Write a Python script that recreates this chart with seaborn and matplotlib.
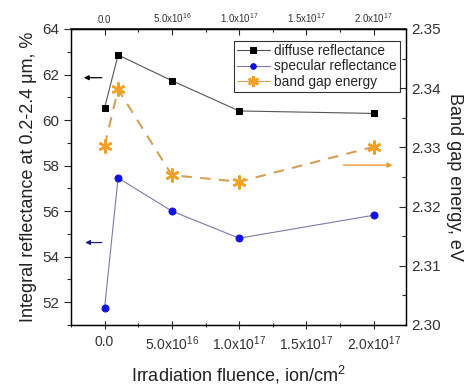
import matplotlib
matplotlib.use("Agg")
import matplotlib.pyplot as plt
import seaborn as sns
import pandas as pd
from matplotlib.ticker import MultipleLocator

sns.set_theme(style="ticks")
plt.rcParams['font.family'] = ['Liberation Sans', 'DejaVu Sans']
plt.rcParams['mathtext.fontset'] = 'custom'
plt.rcParams['mathtext.rm'] = 'Liberation Sans'
plt.rcParams['mathtext.it'] = 'Liberation Sans'

fluence = [0.0, 1.0e16, 5.0e16, 1.0e17, 2.0e17]
diffuse = [60.54, 62.86, 61.73, 60.40, 60.29]
specular = [51.75, 57.46, 56.00, 54.81, 55.82]
band_gap = [2.3303, 2.3398, 2.3253, 2.3242, 2.3301]

xtick_vals = [0.0, 5.0e16, 1.0e17, 1.5e17, 2.0e17]
xtick_labels = ["0.0", r"5.0x10$^{16}$", r"1.0x10$^{17}$", r"1.5x10$^{17}$", r"2.0x10$^{17}$"]

df = pd.DataFrame({"fluence": fluence, "diffuse": diffuse,
                   "specular": specular, "band_gap": band_gap})

fig = plt.figure(figsize=(4.71, 3.85), dpi=100)
ax = fig.add_axes([0.1507, 0.156, 0.7113, 0.7687])
ax2 = ax.twinx()

sns.lineplot(data=df, x="fluence", y="diffuse", ax=ax, color="#555555", lw=0.8,
             marker="s", markersize=5, markerfacecolor="black", markeredgecolor="black",
             label="diffuse reflectance", legend=False)
sns.lineplot(data=df, x="fluence", y="specular", ax=ax, color="#7a7ab0", lw=0.8,
             marker="o", markersize=5, markerfacecolor="#1010e0", markeredgecolor="#1010e0",
             label="specular reflectance", legend=False)
sns.lineplot(data=df, x="fluence", y="band_gap", ax=ax2, color="#d4a055", lw=1.5,
             linestyle=(0, (5, 4)), marker=(6, 2, 0), markersize=10, markeredgewidth=1.8,
             markerfacecolor="#f5a020", markeredgecolor="#f5a020",
             label="band gap energy", legend=False)

ax.set_xlim(-2.5e16, 2.24e17)
ax.set_ylim(51, 64)
ax2.set_ylim(2.30, 2.35)

ax.set_xticks(xtick_vals)
ax.set_xticklabels(xtick_labels)
ax.xaxis.set_minor_locator(MultipleLocator(2.5e16))
ax.yaxis.set_major_locator(MultipleLocator(2))
ax.yaxis.set_minor_locator(MultipleLocator(1))
ax2.yaxis.set_major_locator(MultipleLocator(0.01))
ax2.yaxis.set_minor_locator(MultipleLocator(0.005))
ax2.set_yticklabels([f"{v:.2f}" for v in ax2.get_yticks()])

ax.tick_params(axis="x", which="major", direction="inout", length=6, width=0.8, labelsize=10, pad=4,
               labelcolor="#333333")
ax.tick_params(axis="x", which="minor", direction="inout", length=3, width=0.8)
ax.tick_params(axis="y", which="major", direction="out", length=5, width=0.8, labelsize=11,
               labelcolor="#333333")
ax.tick_params(axis="y", which="minor", direction="out", length=3, width=0.8)
ax2.tick_params(axis="y", which="major", direction="in", length=5, width=0.8, labelsize=11,
                labelcolor="#333333")
ax2.tick_params(axis="y", which="minor", direction="in", length=3, width=0.8)

axt = ax.secondary_xaxis("top")
axt.set_xticks(xtick_vals)
axt.set_xticklabels(xtick_labels)
axt.xaxis.set_minor_locator(MultipleLocator(2.5e16))
axt.tick_params(axis="x", which="major", direction="in", length=4, width=0.8, labelsize=7, pad=3,
                labelcolor="#333333")
axt.tick_params(axis="x", which="minor", direction="in", length=2.5, width=0.8)

for a in (ax, ax2):
    for s in a.spines.values():
        s.set_linewidth(0.9)
        s.set_color("black")

ax.set_xlabel("Irradiation fluence, ion/cm$^2$", fontsize=13, labelpad=8, color="#222222")
ax.set_ylabel("Integral reflectance at 0.2-2.4 μm, %", fontsize=13, labelpad=4, color="#222222")
ax2.set_ylabel("Band gap energy, eV", fontsize=13, rotation=270, labelpad=16, color="#222222")

# direction arrows
ax.annotate("", xy=(-1.75e16, 61.86), xytext=(0.0, 61.86),
            arrowprops=dict(arrowstyle="-|>", color="black", lw=0.9, mutation_scale=7))
ax.annotate("", xy=(-1.65e16, 54.62), xytext=(0.0, 54.62),
            arrowprops=dict(arrowstyle="-|>", color="#202080", lw=0.9, mutation_scale=7))
ax2.annotate("", xy=(2.16e17, 2.327), xytext=(1.755e17, 2.327),
             arrowprops=dict(arrowstyle="-|>", color="#e89a30", lw=1.0, mutation_scale=7))

h1, l1 = ax.get_legend_handles_labels()
h2, l2 = ax2.get_legend_handles_labels()
leg = ax2.legend(h1 + h2, l1 + l2, loc="upper right", bbox_to_anchor=(0.99, 0.97),
                 fontsize=9.8, frameon=True, fancybox=False, handlelength=2.4,
                 borderpad=0.25, labelspacing=0.1, handletextpad=0.3, borderaxespad=0.2,
                 markerscale=0.8)
leg.get_frame().set_edgecolor("black")
leg.get_frame().set_linewidth(0.8)
for line in leg.get_lines():
    line.set_linewidth(0.8)
    line.set_linestyle("-")

fig.savefig("out.png", dpi=100)
